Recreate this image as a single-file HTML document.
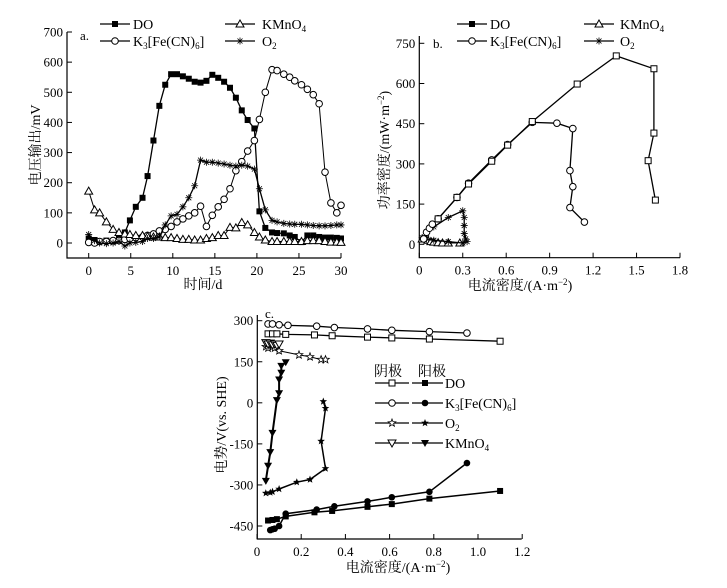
<!DOCTYPE html>
<html><head><meta charset="utf-8"><style>
html,body{margin:0;padding:0;background:#fff;}
svg{display:block;font-family:"Liberation Serif","Noto Serif CJK SC",serif;}
</style></head><body>
<svg id="chart" width="727" height="588" viewBox="0 0 727 588" xmlns="http://www.w3.org/2000/svg"></svg>
<script>
// ---------- Panel a data ----------
const aDays = [0,0.7,1.3,2.1,2.9,3.6,4.3,4.9,5.6,6.4,7.0,7.7,8.4,9.1,9.8,10.5,11.2,11.9,12.6,13.3,14.0,14.7,15.4,16.1,16.8,17.5,18.2,18.9,19.7,20.3,21.0,21.8,22.4,23.2,23.9,24.5,25.3,26.0,26.7,27.4,28.1,28.8,29.5,30];
const aDO = [15,10,5,8,5,20,35,75,120,150,222,340,455,525,560,560,553,545,535,532,538,558,548,535,515,482,440,408,380,105,50,35,33,32,25,20,3,25,25,20,18,18,17,15];
const aK3 = [2,0,5,5,8,8,12,15,18,20,25,30,40,45,55,70,80,90,100,122,55,92,120,145,180,240,270,305,340,410,500,575,572,560,550,538,525,510,492,462,235,133,100,125];
const aKMn = [172,110,100,70,45,35,30,28,25,25,22,20,20,18,18,15,12,12,10,10,15,18,25,25,52,50,68,60,35,20,10,5,5,5,5,5,5,8,8,8,5,3,3,2];
const aO2 = [28,8,0,-2,0,5,-10,0,2,5,15,15,20,60,90,95,120,150,190,275,268,268,265,262,258,255,258,255,245,180,110,75,70,65,63,62,62,60,58,57,57,58,60,60];
const aYTicks = [0,100,200,300,400,500,600,700];
const aXTicks = [0,5,10,15,20,25,30];
// ---------- Panel b data ----------
const bDOx = [0.13,0.26,0.34,0.50,0.61,0.78,1.09,1.36,1.62,1.62,1.58,1.63];
const bDOy = [95,175,225,310,370,458,598,703,655,415,312,165];
const bK3x = [0.03,0.05,0.07,0.09,0.13,0.26,0.34,0.50,0.61,0.78,0.95,1.06,1.04,1.06,1.04,1.14];
const bK3y = [20,45,60,75,95,175,228,315,372,455,452,432,275,215,137,83];
const bKMnx = [0.02,0.04,0.06,0.08,0.10,0.13,0.16,0.20,0.28];
const bKMny = [20,20,15,10,8,6,5,5,5];
const bO2x = [0.05,0.10,0.20,0.30,0.31,0.31,0.31,0.32,0.33,0.30,0.20,0.10,0.05,0.02];
const bO2y = [40,65,100,125,100,70,40,20,10,5,10,15,20,25];
const bYTicks = [0,150,300,450,600,750];
const bXTicks = [0,0.3,0.6,0.9,1.2,1.5,1.8];
// ---------- Panel c data ----------
const cCatDOx = [0.05,0.07,0.09,0.13,0.26,0.34,0.50,0.61,0.78,1.10];
const cCatDOy = [252,252,252,250,248,245,240,237,233,225];
const cCatK3x = [0.05,0.07,0.10,0.14,0.27,0.35,0.50,0.61,0.78,0.95];
const cCatK3y = [288,288,285,283,280,275,270,265,260,255];
const cCatO2x = [0.04,0.05,0.06,0.07,0.08,0.10,0.19,0.24,0.29,0.31];
const cCatO2y = [205,200,210,205,200,190,175,168,158,158];
const cCatKMnx = [0.04,0.05,0.06,0.07,0.08,0.09,0.10];
const cCatKMny = [220,215,218,212,215,210,215];
const cAnDOx = [0.05,0.07,0.09,0.13,0.26,0.34,0.50,0.61,0.78,1.10];
const cAnDOy = [-430,-428,-425,-415,-400,-395,-380,-370,-350,-322];
const cAnK3x = [0.06,0.07,0.08,0.10,0.13,0.27,0.35,0.50,0.61,0.78,0.95];
const cAnK3y = [-465,-462,-460,-450,-405,-390,-378,-360,-345,-325,-220];
const cAnO2x = [0.04,0.06,0.07,0.10,0.18,0.24,0.31,0.29,0.31,0.30];
const cAnO2y = [-330,-328,-325,-315,-290,-280,-240,-140,-20,5];
const cAnKMnx = [0.04,0.05,0.06,0.07,0.09,0.10,0.10,0.11,0.11,0.13];
const cAnKMny = [-285,-230,-180,-110,10,35,85,110,135,148];
const cYTicks = [-450,-300,-150,0,150,300];
const cXTicks = [0,0.2,0.4,0.6,0.8,1.0,1.2];

const NS = "http://www.w3.org/2000/svg";
const svg = document.getElementById('chart');
function mk(tag, attrs, parent){const e=document.createElementNS(NS,tag);for(const k in attrs)e.setAttribute(k,attrs[k]);(parent||svg).appendChild(e);return e;}
function txt(s, x, y, anchor, size, parent){const t=mk('text',{x:x,y:y,'text-anchor':anchor||'middle','font-size':size||13,fill:'#000'},parent);t.innerHTML=s;return t;}

function marker(g, type, x, y){
  let e;
  if(type==='sq'){e=mk('rect',{x:x-3,y:y-3,width:6,height:6,fill:'#fff',stroke:'#000','stroke-width':1},g);}
  else if(type==='sqf'){e=mk('rect',{x:x-3,y:y-3,width:6,height:6,fill:'#000'},g);}
  else if(type==='ci'){e=mk('circle',{cx:x,cy:y,r:3.3,fill:'#fff',stroke:'#000','stroke-width':1},g);}
  else if(type==='cif'){e=mk('circle',{cx:x,cy:y,r:3.3,fill:'#000'},g);}
  else if(type==='tri'){e=mk('polygon',{points:`${x},${y-4} ${x-4},${y+3} ${x+4},${y+3}`,fill:'#fff',stroke:'#000','stroke-width':1},g);}
  else if(type==='dtri'){e=mk('polygon',{points:`${x},${y+4} ${x-4},${y-3} ${x+4},${y-3}`,fill:'#fff',stroke:'#000','stroke-width':1},g);}
  else if(type==='dtrif'){e=mk('polygon',{points:`${x},${y+4} ${x-4},${y-3} ${x+4},${y-3}`,fill:'#000'},g);}
  else if(type==='star'){e=mk('path',{d:`M${x-3.5},${y}H${x+3.5}M${x},${y-3.5}V${y+3.5}M${x-2.5},${y-2.5}L${x+2.5},${y+2.5}M${x-2.5},${y+2.5}L${x+2.5},${y-2.5}`,stroke:'#000','stroke-width':0.8,fill:'none'},g);}
  else if(type==='ostar'){e=mk('polygon',{points:starPts(x,y,4,1.7),fill:'#fff',stroke:'#000','stroke-width':0.8},g);}
  else if(type==='fstar'){e=mk('polygon',{points:starPts(x,y,4,1.7),fill:'#000'},g);}
  
  
  return e;
}
function starPts(x,y,R,r){let p=[];for(let i=0;i<10;i++){const a=-Math.PI/2+i*Math.PI/5;const rr=i%2?r:R;p.push((x+rr*Math.cos(a)).toFixed(1)+','+(y+rr*Math.sin(a)).toFixed(1));}return p.join(' ');}

function series(name, xs, ys, sx, sy, type, lw){
  const g=mk('g',{});
  
  
  const pts=xs.map((v,i)=>sx(v).toFixed(1)+','+sy(ys[i]).toFixed(1)).join(' ');
  mk('polyline',{points:pts,fill:'none',stroke:'#000','stroke-width':lw||1.3},g);
  xs.forEach((v,i)=>marker(g,type,sx(v),sy(ys[i])));
}

function axes(name, x0,x1,y0,y1, sx, sy, xt, yt, xfmt, yfmt){
  const g=mk('g',{});
  
  
  mk('path',{d:`M${x0},${y0}V${y1}H${x1}`,stroke:'#000','stroke-width':1.2,fill:'none'},g);
  xt.forEach(v=>{const x=sx(v);mk('line',{x1:x,y1:y1,x2:x,y2:y1-5,stroke:'#000','stroke-width':1},g);txt(xfmt(v),x,y1+17,'middle',13,g);});
  yt.forEach(v=>{const y=sy(v);mk('line',{x1:x0,y1:y,x2:x0+5,y2:y,stroke:'#000','stroke-width':1},g);txt(yfmt(v),x0-4,y+4.5,'end',13,g);});
}
function legendItem(x, y, type, label, lx){
  const g=mk('g',{});
  
  
  mk('line',{x1:x,y1:y,x2:x+30,y2:y,stroke:'#000','stroke-width':1.3},g);
  marker(g,type,x+15,y);
  txt(label,lx!==undefined?lx:x+33,y+5,'start',14,g);
}

// ----- Panel a -----
const ax=v=>88.7+v*(252.3/30), ay=v=>243-v*(211/700);
axes('panel-a-axes',67,341,32,258,ax,ay,aXTicks,aYTicks,v=>v,v=>v);
series('do-voltage',aDays,aDO,ax,ay,'sqf');
series('k3fecn6-voltage',aDays,aK3,ax,ay,'ci',1);
series('kmno4-voltage',aDays,aKMn,ax,ay,'tri',1);
series('o2-voltage',aDays,aO2,ax,ay,'star',1.3);
txt('a.',80,40,'start',13);
legendItem(100,24,'sqf','DO');
legendItem(100,41,'ci','K<tspan font-size="9" dy="3">3</tspan><tspan dy="-3">[Fe(CN)</tspan><tspan font-size="9" dy="3">6</tspan><tspan dy="-3">]</tspan>');
legendItem(225,24,'tri','KMnO<tspan font-size="9" dy="3">4</tspan>',262);
legendItem(225,41,'star','O<tspan font-size="9" dy="3">2</tspan>',262);
txt('时间/d',203,289,'middle',14);
{const t=txt('电压输出/mV',0,0,'middle',14);t.setAttribute('transform','translate(40,145) rotate(-90)');}

// ----- Panel b -----
const bx=v=>419.3+v*(260.7/1.8), by=v=>244.3-v*(201/750);
axes('panel-b-axes',419.3,680,36,257.7,bx,by,bXTicks,bYTicks,v=>v===0?'0':v.toFixed(1),v=>v);
series('kmno4-power',bKMnx,bKMny,bx,by,'tri',1);
series('o2-power',bO2x,bO2y,bx,by,'star',1.3);
series('k3fecn6-power',bK3x,bK3y,bx,by,'ci',1.3);
series('do-power',bDOx,bDOy,bx,by,'sq',1.3);
txt('b.',433,48,'start',13);
legendItem(457,24,'sqf','DO');
legendItem(457,41,'ci','K<tspan font-size="9" dy="3">3</tspan><tspan dy="-3">[Fe(CN)</tspan><tspan font-size="9" dy="3">6</tspan><tspan dy="-3">]</tspan>');
legendItem(584,24,'tri','KMnO<tspan font-size="9" dy="3">4</tspan>',620);
legendItem(584,41,'star','O<tspan font-size="9" dy="3">2</tspan>',620);
txt('电流密度/(A·m<tspan font-size="9" dy="-5">−2</tspan><tspan dy="5">)</tspan>',520,290,'middle',14);
{const t=txt('功率密度/(mW·m<tspan font-size="9" dy="-5">−2</tspan><tspan dy="5">)</tspan>',0,0,'middle',14);t.setAttribute('transform','translate(389,150) rotate(-90)');}

// ----- Panel c -----
const cx=v=>257+v*221, cy=v=>320.7-(v-300)*(205.3/750);
axes('panel-c-axes',257.3,521.7,315,539,cx,cy,cXTicks,cYTicks,v=>v===0?'0':v.toFixed(1),v=>v);
series('cathode-do',cCatDOx,cCatDOy,cx,cy,'sq');
series('cathode-k3fecn6',cCatK3x,cCatK3y,cx,cy,'ci');
series('cathode-o2',cCatO2x,cCatO2y,cx,cy,'ostar',1);
series('cathode-kmno4',cCatKMnx,cCatKMny,cx,cy,'dtri',1);
series('anode-do',cAnDOx,cAnDOy,cx,cy,'sqf',1.5);
series('anode-k3fecn6',cAnK3x,cAnK3y,cx,cy,'cif',1.5);
series('anode-o2',cAnO2x,cAnO2y,cx,cy,'fstar',1.5);
series('anode-kmno4',cAnKMnx,cAnKMny,cx,cy,'dtrif',2);
txt('c.',265,318,'start',13);
txt('阴极',388,376,'middle',14);
txt('阳极',432,376,'middle',14);
const cLegY=[383,403,423,443];
const cLegCat=['sq','ci','ostar','dtri'], cLegAn=['sqf','cif','fstar','dtrif'];
const cLegLbl=['DO','K<tspan font-size="9" dy="3">3</tspan><tspan dy="-3">[Fe(CN)</tspan><tspan font-size="9" dy="3">6</tspan><tspan dy="-3">]</tspan>','O<tspan font-size="9" dy="3">2</tspan>','KMnO<tspan font-size="9" dy="3">4</tspan>'];
cLegY.forEach((y,i)=>{
  const g=mk('g',{});
  
  
  mk('line',{x1:375,y1:y,x2:409,y2:y,stroke:'#000','stroke-width':1.3},g);
  marker(g,cLegCat[i],392,y);
  mk('line',{x1:412,y1:y,x2:443,y2:y,stroke:'#000','stroke-width':1.3},g);
  marker(g,cLegAn[i],425,y);
  txt(cLegLbl[i],445,y+5,'start',14,g);
});
txt('电流密度/(A·m<tspan font-size="9" dy="-5">−2</tspan><tspan dy="5">)</tspan>',398,572,'middle',14);
{const t=txt('电势/V(vs. SHE)',0,0,'middle',14);t.setAttribute('transform','translate(226,425) rotate(-90)');}
</script>
</body></html>
